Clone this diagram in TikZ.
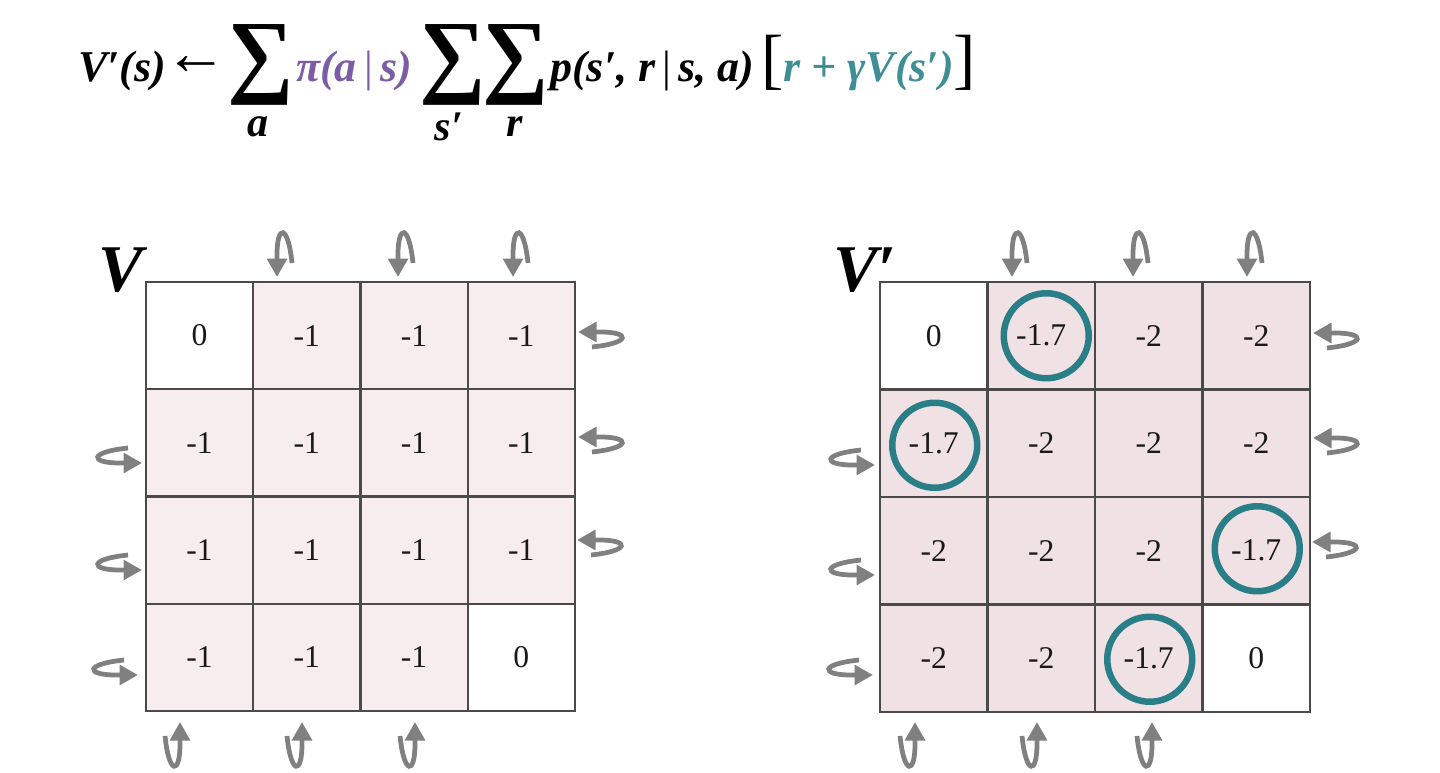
\documentclass[tikz,border=0pt]{standalone}
\usepackage{fontspec}
\setmainfont{Liberation Serif}
\usepackage{xcolor}
\definecolor{policy}{HTML}{7D5CA6}
\definecolor{target}{HTML}{3E8E95}
\definecolor{ring}{HTML}{2A7E88}
\definecolor{cellold}{HTML}{F7EDEF}
\definecolor{cellnew}{HTML}{F0E2E4}
\definecolor{gridline}{HTML}{4A4A4A}
\definecolor{loopgray}{HTML}{808080}
\usepackage{tikz}
\usetikzlibrary{arrows.meta, positioning, calc}
\tikzset{
  cell/.style={
    rectangle, draw=gridline, line width=0.04cm, fill=#1,
    minimum size=2.145cm, inner sep=0pt, text=black!90,
    font=\fontsize{18}{20}\selectfont
  },
  cell/.default=white,
  hit/.style={circle, draw=ring, line width=0.13cm, minimum size=1.7cm},
  eq/.style={anchor=base west, inner sep=0pt,
             font=\fontsize{25}{30}\selectfont\bfseries\itshape},
  bigsum/.style={inner sep=0pt, font=\fontsize{53}{53}\selectfont\bfseries},
  lim/.style={inner sep=0pt, font=\fontsize{24}{26}\selectfont\bfseries\itshape},
  gridname/.style={anchor=base west, inner sep=0pt,
                   font=\fontsize{38}{40}\selectfont\bfseries\itshape},
  uturn/.pic={
    \draw[loopgray, line width=0.095cm, -{Triangle[length=0.37cm, width=0.39cm]}]
      (-14,-15) .. controls (-53,-11) and (-53,0) .. (-22,0) -- (0,0);
  }
}

\begin{document}
\begin{tikzpicture}[x=0.02cm, y=-0.02cm]
  \useasboundingbox (0,0) rectangle (1440,773);

  %% Update rule
  \node[eq] (lhs) at (78,82) {V′(s)};
  \node[inner sep=0pt, font=\fontsize{36}{36}\selectfont] (gets) at (196,66) {←};
  \node[bigsum] (sumA) at (261,65) {∑};
  \node[lim] (subA) at (258,127) {a};
  \node[eq, text=policy] (pol) at (296,82) {π(a\,{\mdseries\upshape|}\,s)};
  \node[bigsum] (sumS) at (453,65) {∑};
  \node[lim] (subS) at (449,127) {s′};
  \node[bigsum] (sumR) at (516,65) {∑};
  \node[lim] (subR) at (515,127) {r};
  \node[eq] (model) at (550,82) {p(s′, r\,{\mdseries\upshape|}\,s, a)};
  \node[eq] (tgt) at (761,82)
    {{\mdseries\upshape\fontsize{38}{38}\selectfont[}\textcolor{target}{r + γV(s′)}{\mdseries\upshape\fontsize{38}{38}\selectfont]}};

  %% Old values V
  \node[gridname] (vold) at (98,292) {V};
  \foreach \r/\vals in {1/{0/white,-1/cellold,-1/cellold,-1/cellold},
                        2/{-1/cellold,-1/cellold,-1/cellold,-1/cellold},
                        3/{-1/cellold,-1/cellold,-1/cellold,-1/cellold},
                        4/{-1/cellold,-1/cellold,-1/cellold,0/white}}
    \foreach \v/\f [count=\c] in \vals
      \node[cell=\f] (L\r\c) at ({146+107.25*(\c-0.5)},{282+107.25*(\r-0.5)}) {\v};

  %% New values V'
  \node[gridname] (vnew) at (833,292) {V′};
  \foreach \r/\vals in {1/{0/white,-1.7/cellnew,-2/cellnew,-2/cellnew},
                        2/{-1.7/cellnew,-2/cellnew,-2/cellnew,-2/cellnew},
                        3/{-2/cellnew,-2/cellnew,-2/cellnew,-1.7/cellnew},
                        4/{-2/cellnew,-2/cellnew,-1.7/cellnew,0/white}}
    \foreach \v/\f [count=\c] in \vals
      \node[cell=\f] (R\r\c) at ({880+107.5*(\c-0.5)},{282+107.5*(\r-0.5)}) {\v};

  \node[hit] (h12) at ($(R12)+(5,0)$) {};
  \node[hit] (h21) at ($(R21)+(1,2)$) {};
  \node[hit] (h34) at ($(R34)+(1,-2)$) {};
  \node[hit] (h43) at ($(R43)+(1,1)$) {};

  %% Bump-into-wall moves
  \foreach \x/\y in {277/277, 398/277, 513/277, 1012/277, 1133/277, 1247/277}
    \pic[rotate=-90] at (\x,\y) {uturn};
  \foreach \x/\y in {578/332, 578/437, 577/540, 1313/333, 1313/438, 1312/542}
    \pic[rotate=180] at (\x,\y) {uturn};
  \foreach \x/\y in {142/463, 142/570, 138/675, 875/465, 875/575, 873/675}
    \pic at (\x,\y) {uturn};
  \foreach \x/\y in {180/722, 302/722, 415/722, 915/722, 1037/722, 1152/722}
    \pic[rotate=90] at (\x,\y) {uturn};

\end{tikzpicture}
\end{document}
